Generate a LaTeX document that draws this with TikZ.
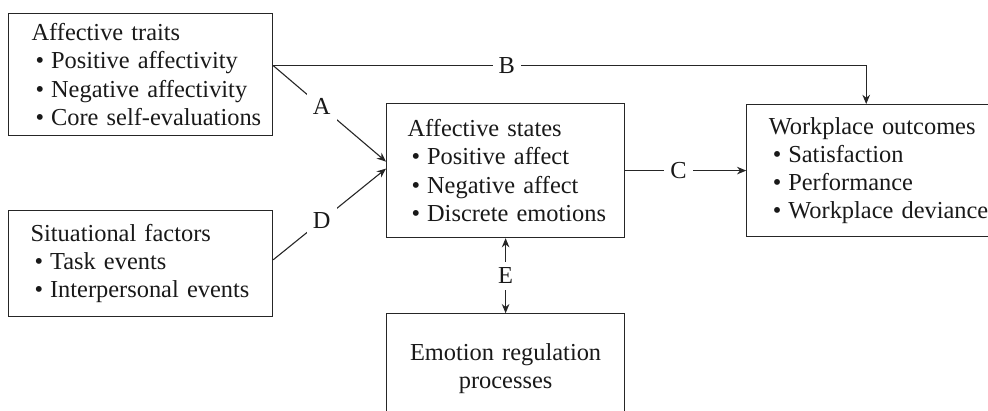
\documentclass[tikz,border=0pt]{standalone}
\usepackage{fontspec}
\setmainfont{Liberation Serif}
\usetikzlibrary{positioning,arrows.meta}
\newcommand{\fs}{\fontsize{12.2pt}{14.1pt}\selectfont}
\newcommand{\hd}[1]{\mbox{#1}}
\newcommand{\bul}[1]{\mbox{\hspace*{2pt}\textbullet\hspace{3.5pt}#1}}
\tikzstyle{box}=[rectangle,draw=black!85,line width=0.6pt,inner xsep=0pt,align=left,font=\fs,text=black!90]
\tikzstyle{myarrow}=[-{Stealth[length=4.6pt,width=3.8pt]},draw=black!85,line width=0.55pt]
\tikzstyle{myarrows}=[{Stealth[length=4.6pt,width=3.8pt]}-{Stealth[length=4.6pt,width=3.8pt]},draw=black!85,line width=0.55pt]
\tikzstyle{lbl}=[fill=white,inner sep=3pt,font=\fs,text=black!90]

\begin{document}
\begin{tikzpicture}[x=0.5pt,y=-0.5pt]
\useasboundingbox (0,0) rectangle (988,411);
\clip (0,0) rectangle (988,411);

\node(boxTrait)[box,anchor=north west,minimum width=132pt,minimum height=61pt,text width=109pt] at (8,13)
  {\hd{Affective traits}\\ \bul{Positive affectivity}\\ \bul{Negative affectivity}\\ \bul{Core self-evaluations}};
\node(boxSitu)[box,below=37pt of boxTrait,minimum width=132pt,minimum height=53pt,text width=110pt]
  {\hd{Situational factors}\\ \bul{Task events}\\ \bul{Interpersonal events}};

\node(boxState)[box,anchor=north west,minimum width=119pt,minimum height=67pt,text width=98pt] at (386,103)
  {\hd{Affective states}\\ \bul{Positive affect}\\ \bul{Negative affect}\\ \bul{Discrete emotions}};
\node(boxOutc)[box,right=60.5pt of boxState,minimum width=125pt,minimum height=66pt,text width=103pt]
  {\hd{Workplace outcomes}\\ \bul{Satisfaction}\\ \bul{Performance}\\ \bul{Workplace deviance}};
\node(boxReg)[box,below=37.5pt of boxState,minimum width=119pt,minimum height=55pt,text width=98pt,align=center]
  {\hd{Emotion regulation}\\ \hd{processes}};

\coordinate (tA) at ([yshift=4.5pt]boxTrait.east);
\coordinate (sA) at ([yshift=4.5pt]boxState.west);
\coordinate (sD) at ([yshift=1pt]boxState.west);
\coordinate (dS) at ([yshift=2pt]boxSitu.east);
\coordinate (oB) at ([xshift=60pt]boxOutc.north west);

\draw[myarrow] (tA) -| node[lbl,pos=0.197]{B} (oB);
\draw[myarrow] (tA) -- node[lbl,pos=0.43]{A} (sA);
\draw[myarrow] (dS) -- node[lbl,pos=0.43]{D} (sD);
\draw[myarrow] (boxState) -- node[lbl,pos=0.44]{C} (boxOutc);
\draw[myarrows] (boxState) -- node[lbl]{E} (boxReg);

\end{tikzpicture}
\end{document}
